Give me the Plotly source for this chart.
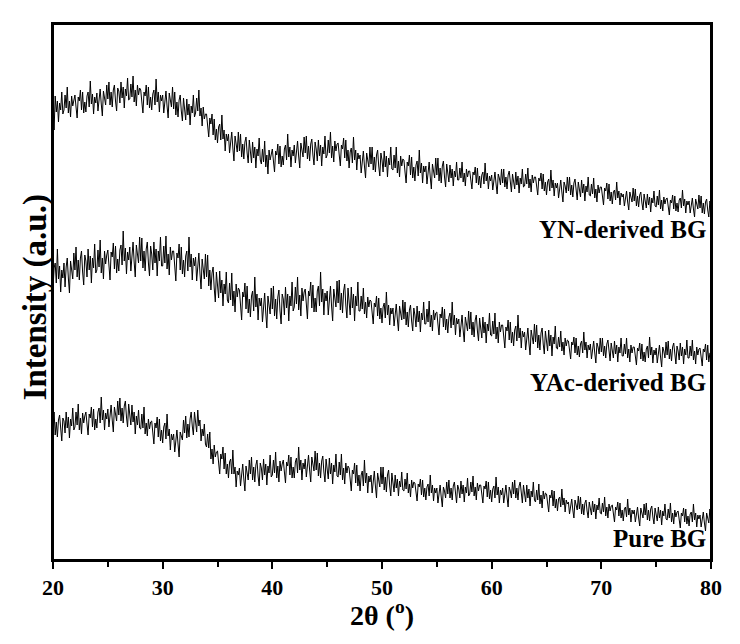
import numpy as np
import plotly.graph_objects as go

# 2-theta sampling grid (deg), 0.1 deg step
two_theta = np.round(np.arange(20.0, 80.0001, 0.1), 2)

# intensities (arbitrary units, traces already stacked)
# one row per degree: 20.0 ... 20.9, 21.0 ... 21.9, etc.
yn_derived = [
    455, 430, 464, 448, 459, 438, 457, 450, 468, 446,
    450, 465, 452, 473, 447, 459, 443, 464, 454, 461,
    465, 453, 442, 463, 459, 470, 450, 468, 447, 458,
    448, 464, 468, 453, 479, 456, 466, 446, 463, 457,
    467, 449, 464, 471, 456, 444, 469, 463, 455, 475,
    461, 478, 455, 468, 453, 470, 475, 459, 449, 472,
    469, 457, 478, 462, 473, 452, 471, 464, 482, 460,
    461, 476, 463, 484, 458, 470, 454, 475, 465, 472,
    470, 458, 447, 468, 464, 475, 455, 473, 452, 463,
    450, 466, 470, 455, 481, 458, 468, 448, 465, 459,
    465, 447, 462, 469, 454, 442, 467, 461, 453, 473,
    451, 468, 445, 458, 443, 460, 465, 449, 439, 462,
    452, 440, 461, 445, 456, 435, 454, 447, 465, 443,
    447, 462, 449, 470, 444, 452, 434, 453, 441, 446,
    446, 434, 423, 442, 436, 446, 425, 441, 420, 431,
    417, 433, 436, 420, 445, 421, 430, 409, 426, 419,
    426, 407, 421, 428, 412, 399, 424, 417, 408, 428,
    409, 426, 403, 416, 401, 418, 423, 407, 397, 420,
    409, 397, 418, 402, 413, 392, 411, 404, 422, 400,
    396, 411, 398, 419, 393, 405, 386, 410, 400, 407,
    411, 399, 388, 409, 405, 416, 396, 414, 393, 404,
    395, 411, 415, 400, 426, 403, 413, 393, 410, 404,
    415, 397, 412, 419, 404, 392, 417, 411, 403, 423,
    407, 424, 401, 414, 399, 416, 421, 405, 395, 418,
    411, 399, 420, 404, 415, 394, 413, 406, 424, 402,
    405, 420, 407, 428, 402, 414, 398, 419, 409, 416,
    417, 405, 394, 415, 411, 422, 402, 420, 399, 410,
    392, 408, 412, 397, 423, 400, 410, 390, 407, 401,
    405, 387, 402, 409, 394, 382, 407, 401, 393, 413,
    396, 413, 390, 403, 388, 405, 410, 394, 384, 407,
    400, 388, 409, 393, 404, 383, 402, 395, 413, 391,
    390, 405, 392, 413, 387, 399, 383, 404, 394, 401,
    400, 388, 377, 398, 394, 405, 385, 403, 382, 393,
    379, 395, 399, 384, 410, 387, 397, 377, 394, 388,
    394, 376, 391, 398, 383, 371, 396, 390, 382, 402,
    385, 402, 379, 392, 377, 394, 399, 383, 373, 396,
    387, 378, 395, 382, 391, 374, 389, 383, 398, 380,
    380, 392, 382, 398, 378, 387, 374, 391, 383, 389,
    389, 380, 371, 388, 385, 393, 377, 392, 375, 384,
    372, 385, 388, 376, 397, 379, 387, 371, 384, 379,
    385, 370, 382, 388, 376, 366, 386, 382, 375, 391,
    377, 391, 373, 383, 371, 385, 389, 376, 368, 386,
    380, 371, 388, 375, 384, 367, 382, 376, 391, 373,
    374, 386, 376, 392, 372, 381, 368, 385, 377, 383,
    383, 374, 365, 382, 379, 387, 371, 386, 369, 378,
    365, 378, 381, 369, 390, 372, 380, 364, 377, 372,
    377, 362, 374, 380, 368, 358, 378, 374, 367, 383,
    369, 383, 365, 375, 363, 377, 381, 368, 360, 378,
    372, 363, 380, 367, 376, 359, 374, 368, 383, 365,
    364, 376, 366, 382, 362, 371, 358, 375, 367, 373,
    373, 364, 355, 372, 369, 377, 361, 376, 359, 368,
    356, 368, 370, 360, 378, 362, 369, 355, 367, 363,
    366, 354, 364, 369, 358, 350, 368, 363, 358, 372,
    359, 371, 354, 364, 353, 365, 368, 357, 350, 366,
    360, 352, 366, 355, 363, 348, 362, 357, 369, 354,
    353, 364, 355, 370, 351, 360, 349, 363, 356, 361,
    362, 353, 345, 360, 357, 365, 351, 364, 349, 357,
    348, 360, 362, 352, 370, 354, 361, 347, 359, 355,
    359, 347, 357, 362, 351, 343, 361, 356, 351, 365,
    352, 364, 347, 357, 346, 358, 361, 350, 343, 359,
    352,
]

yac_derived = [
    271, 292, 297, 277, 311, 281, 294, 268, 290, 282,
    297, 273, 293, 302, 282, 267, 299, 292, 281, 307,
    290, 313, 283, 300, 280, 302, 309, 288, 275, 305,
    299, 283, 311, 290, 304, 277, 302, 292, 316, 287,
    290, 310, 293, 320, 287, 302, 281, 309, 296, 305,
    310, 295, 280, 308, 303, 317, 291, 314, 287, 301,
    289, 310, 315, 295, 329, 299, 312, 286, 308, 300,
    313, 289, 309, 318, 298, 283, 315, 308, 297, 323,
    299, 322, 292, 309, 289, 311, 318, 297, 284, 314,
    306, 290, 318, 297, 311, 284, 309, 299, 323, 294,
    294, 314, 297, 324, 291, 306, 285, 313, 300, 309,
    309, 294, 279, 307, 302, 316, 290, 313, 286, 300,
    283, 304, 309, 289, 323, 293, 306, 280, 302, 294,
    303, 279, 298, 307, 287, 271, 301, 293, 281, 306,
    283, 305, 274, 290, 270, 287, 293, 272, 258, 288,
    278, 262, 289, 267, 280, 254, 276, 266, 288, 260,
    257, 277, 260, 287, 254, 269, 248, 276, 263, 272,
    270, 255, 240, 268, 263, 277, 251, 274, 247, 261,
    243, 264, 269, 249, 283, 253, 266, 240, 262, 254,
    262, 238, 258, 267, 247, 232, 264, 257, 246, 272,
    251, 274, 244, 261, 241, 263, 270, 249, 236, 266,
    261, 245, 273, 252, 266, 239, 264, 254, 278, 249,
    253, 273, 256, 283, 250, 265, 244, 272, 259, 268,
    271, 256, 241, 269, 264, 278, 252, 275, 248, 262,
    248, 269, 274, 254, 288, 258, 271, 245, 267, 259,
    269, 245, 265, 274, 254, 239, 271, 264, 253, 279,
    257, 280, 250, 267, 247, 269, 276, 255, 242, 272,
    261, 245, 273, 252, 266, 239, 264, 254, 278, 249,
    249, 264, 251, 272, 246, 258, 242, 263, 253, 260,
    259, 247, 236, 257, 253, 264, 244, 262, 241, 252,
    237, 253, 257, 242, 268, 245, 255, 235, 252, 246,
    252, 234, 249, 256, 241, 229, 254, 248, 240, 260,
    241, 258, 235, 248, 233, 250, 255, 239, 229, 252,
    245, 233, 254, 238, 249, 228, 247, 240, 258, 236,
    236, 251, 238, 259, 233, 245, 229, 250, 240, 247,
    248, 236, 225, 246, 242, 253, 233, 251, 230, 241,
    227, 243, 247, 232, 258, 235, 245, 225, 242, 236,
    241, 223, 238, 245, 230, 218, 243, 237, 229, 249,
    231, 248, 225, 238, 223, 240, 245, 229, 219, 242,
    234, 222, 243, 227, 238, 217, 236, 229, 247, 225,
    224, 239, 226, 247, 221, 233, 217, 238, 228, 235,
    235, 223, 212, 233, 229, 240, 220, 238, 217, 228,
    214, 230, 234, 219, 245, 222, 232, 212, 229, 223,
    228, 210, 225, 232, 217, 205, 230, 224, 216, 236,
    218, 235, 212, 225, 210, 227, 232, 216, 206, 229,
    221, 209, 230, 214, 225, 204, 223, 216, 234, 212,
    211, 223, 213, 229, 209, 218, 205, 222, 214, 220,
    219, 210, 201, 218, 215, 223, 207, 222, 205, 214,
    203, 216, 219, 207, 228, 210, 218, 202, 215, 210,
    216, 201, 213, 219, 207, 197, 217, 213, 206, 222,
    208, 222, 204, 214, 202, 216, 220, 207, 199, 217,
    211, 202, 219, 206, 215, 198, 213, 207, 222, 204,
    204, 216, 206, 222, 202, 211, 198, 215, 207, 213,
    213, 204, 195, 212, 209, 217, 201, 216, 199, 208,
    198, 211, 214, 202, 223, 205, 213, 197, 210, 205,
    212, 197, 209, 215, 203, 193, 213, 209, 202, 218,
    205, 219, 201, 211, 199, 213, 217, 204, 196, 214,
    209, 200, 217, 204, 213, 196, 211, 205, 220, 202,
    202, 214, 204, 220, 200, 209, 196, 213, 205, 211,
    212, 203, 194, 211, 208, 216, 200, 215, 198, 207,
    206,
]

pure_bg = [
    131, 148, 125, 138, 123, 140, 145, 129, 119, 142,
    139, 127, 148, 132, 143, 122, 141, 134, 152, 130,
    133, 148, 135, 156, 130, 142, 126, 147, 137, 144,
    148, 136, 125, 146, 142, 153, 133, 151, 130, 141,
    132, 148, 152, 137, 163, 140, 150, 130, 147, 141,
    151, 133, 148, 155, 140, 128, 153, 147, 139, 159,
    145, 162, 139, 152, 137, 154, 159, 143, 133, 156,
    147, 135, 155, 138, 148, 126, 144, 135, 150, 132,
    131, 146, 132, 153, 126, 137, 124, 141, 131, 138,
    139, 127, 116, 137, 132, 143, 123, 141, 119, 130,
    117, 133, 137, 121, 146, 124, 131, 110, 126, 120,
    126, 108, 123, 130, 116, 103, 128, 123, 120, 140,
    127, 144, 122, 136, 123, 141, 148, 134, 125, 148,
    139, 128, 150, 134, 140, 119, 131, 124, 136, 116,
    113, 126, 112, 128, 101, 111, 96, 115, 103, 108,
    109, 97, 86, 106, 101, 113, 91, 107, 86, 96,
    82, 98, 101, 86, 110, 86, 93, 73, 89, 85,
    92, 74, 89, 96, 81, 69, 94, 88, 80, 100,
    86, 103, 80, 93, 78, 95, 100, 84, 74, 97,
    92, 80, 101, 85, 96, 75, 94, 87, 105, 83,
    85, 100, 87, 108, 82, 94, 78, 99, 89, 96,
    100, 88, 77, 98, 94, 105, 85, 103, 82, 93,
    82, 98, 102, 87, 113, 90, 100, 80, 97, 91,
    101, 83, 98, 105, 90, 78, 103, 97, 89, 109,
    90, 107, 84, 97, 82, 99, 104, 88, 78, 101,
    93, 81, 102, 86, 97, 76, 95, 88, 106, 84,
    83, 98, 85, 106, 80, 92, 76, 97, 87, 94,
    92, 80, 69, 90, 86, 97, 77, 95, 74, 85,
    69, 85, 89, 74, 100, 77, 87, 67, 84, 78,
    85, 67, 82, 89, 74, 62, 87, 81, 73, 93,
    76, 93, 70, 83, 68, 85, 90, 74, 64, 87,
    77, 68, 85, 72, 81, 64, 79, 73, 88, 70,
    69, 81, 71, 87, 67, 76, 63, 80, 72, 78,
    77, 68, 59, 76, 73, 81, 65, 80, 63, 72,
    60, 73, 76, 64, 85, 67, 75, 59, 72, 67,
    72, 57, 69, 75, 63, 53, 73, 69, 62, 78,
    66, 80, 62, 72, 60, 74, 78, 65, 57, 75,
    71, 62, 79, 66, 75, 58, 73, 67, 82, 64,
    66, 78, 68, 84, 64, 73, 60, 77, 69, 75,
    75, 66, 57, 74, 71, 79, 63, 78, 61, 70,
    58, 71, 74, 62, 83, 65, 73, 57, 70, 65,
    72, 57, 69, 75, 63, 53, 73, 69, 62, 78,
    66, 80, 62, 72, 60, 74, 78, 65, 57, 75,
    67, 58, 75, 62, 71, 54, 69, 63, 78, 60,
    58, 70, 60, 76, 56, 65, 52, 69, 61, 67,
    66, 57, 48, 65, 62, 70, 54, 69, 52, 61,
    49, 61, 63, 53, 71, 55, 62, 48, 60, 56,
    58, 46, 56, 61, 50, 42, 60, 55, 50, 64,
    51, 63, 46, 56, 45, 57, 60, 49, 42, 58,
    53, 45, 59, 48, 56, 41, 55, 50, 62, 47,
    46, 57, 48, 63, 44, 53, 42, 56, 49, 54,
    55, 46, 38, 53, 50, 58, 44, 57, 42, 50,
    39, 51, 53, 43, 61, 45, 52, 38, 50, 46,
    50, 38, 48, 53, 42, 34, 52, 47, 42, 56,
    45, 57, 40, 50, 39, 51, 54, 43, 36, 52,
    47, 39, 53, 42, 50, 35, 49, 44, 56, 41,
    40, 51, 42, 57, 38, 47, 36, 50, 43, 48,
    49, 40, 32, 47, 44, 52, 38, 51, 36, 44,
    34, 46, 48, 38, 56, 40, 47, 33, 45, 41,
    45, 33, 43, 48, 37, 29, 47, 42, 37, 51,
    40,
]

series = [
    ("YN-derived BG", yn_derived, 331),
    ("YAc-derived BG", yac_derived, 178),
    ("Pure BG", pure_bg, 22),
]

FONT = "Liberation Serif, Times New Roman, serif"

fig = go.Figure()
for name, vals, label_y in series:
    fig.add_trace(
        go.Scatter(
            x=two_theta,
            y=vals,
            mode="lines",
            name=name,
            line=dict(color="black", width=1),
            showlegend=False,
        )
    )
    fig.add_annotation(
        x=0.9954,
        xref="paper",
        y=label_y,
        yref="y",
        text="<b>" + name + "</b>",
        showarrow=False,
        xanchor="right",
        yanchor="middle",
        font=dict(family=FONT, size=25, color="black"),
    )

# axis titles as annotations so they sit where the original puts them
fig.add_annotation(
    x=0.5,
    xref="paper",
    y=-0.1007,
    yref="paper",
    text="<b>2θ (<sup>o</sup>)</b>",
    showarrow=False,
    xanchor="center",
    yanchor="middle",
    font=dict(family=FONT, size=28, color="black"),
)
fig.add_annotation(
    x=-0.0274,
    xref="paper",
    y=0.49,
    yref="paper",
    text="<b>Intensity (a.u.)</b>",
    textangle=-90,
    showarrow=False,
    xanchor="center",
    yanchor="middle",
    font=dict(family=FONT, size=33, color="black"),
)

# closed frame around the plot area
fig.add_shape(
    type="rect",
    xref="paper",
    yref="paper",
    x0=0,
    x1=1,
    y0=0,
    y1=1,
    line=dict(color="black", width=2),
    layer="above",
)

fig.update_layout(
    width=740,
    height=644,
    margin=dict(l=53, r=29, t=24, b=84),
    plot_bgcolor="white",
    paper_bgcolor="white",
    font=dict(family=FONT, color="black"),
)
fig.update_xaxes(
    range=[20, 80],
    dtick=10,
    ticks="outside",
    ticklen=7,
    tickwidth=2,
    tickcolor="black",
    minor=dict(dtick=5, ticks="outside", ticklen=5, tickwidth=2, tickcolor="black"),
    showline=True,
    linewidth=2,
    linecolor="black",
    mirror=True,
    showgrid=False,
    zeroline=False,
    tickfont=dict(family=FONT, size=22, color="black", weight="bold"),
    ticklabelstandoff=0,
)
fig.update_yaxes(
    range=[0, 536],
    showticklabels=False,
    ticks="",
    showline=True,
    linewidth=2,
    linecolor="black",
    mirror=True,
    showgrid=False,
    zeroline=False,
)

# drop the default page margin so the 740x644 figure fills the window
fig.write_html(
    "out.html",
    config={"displayModeBar": False},
    post_script="document.body.style.margin='0';",
)
